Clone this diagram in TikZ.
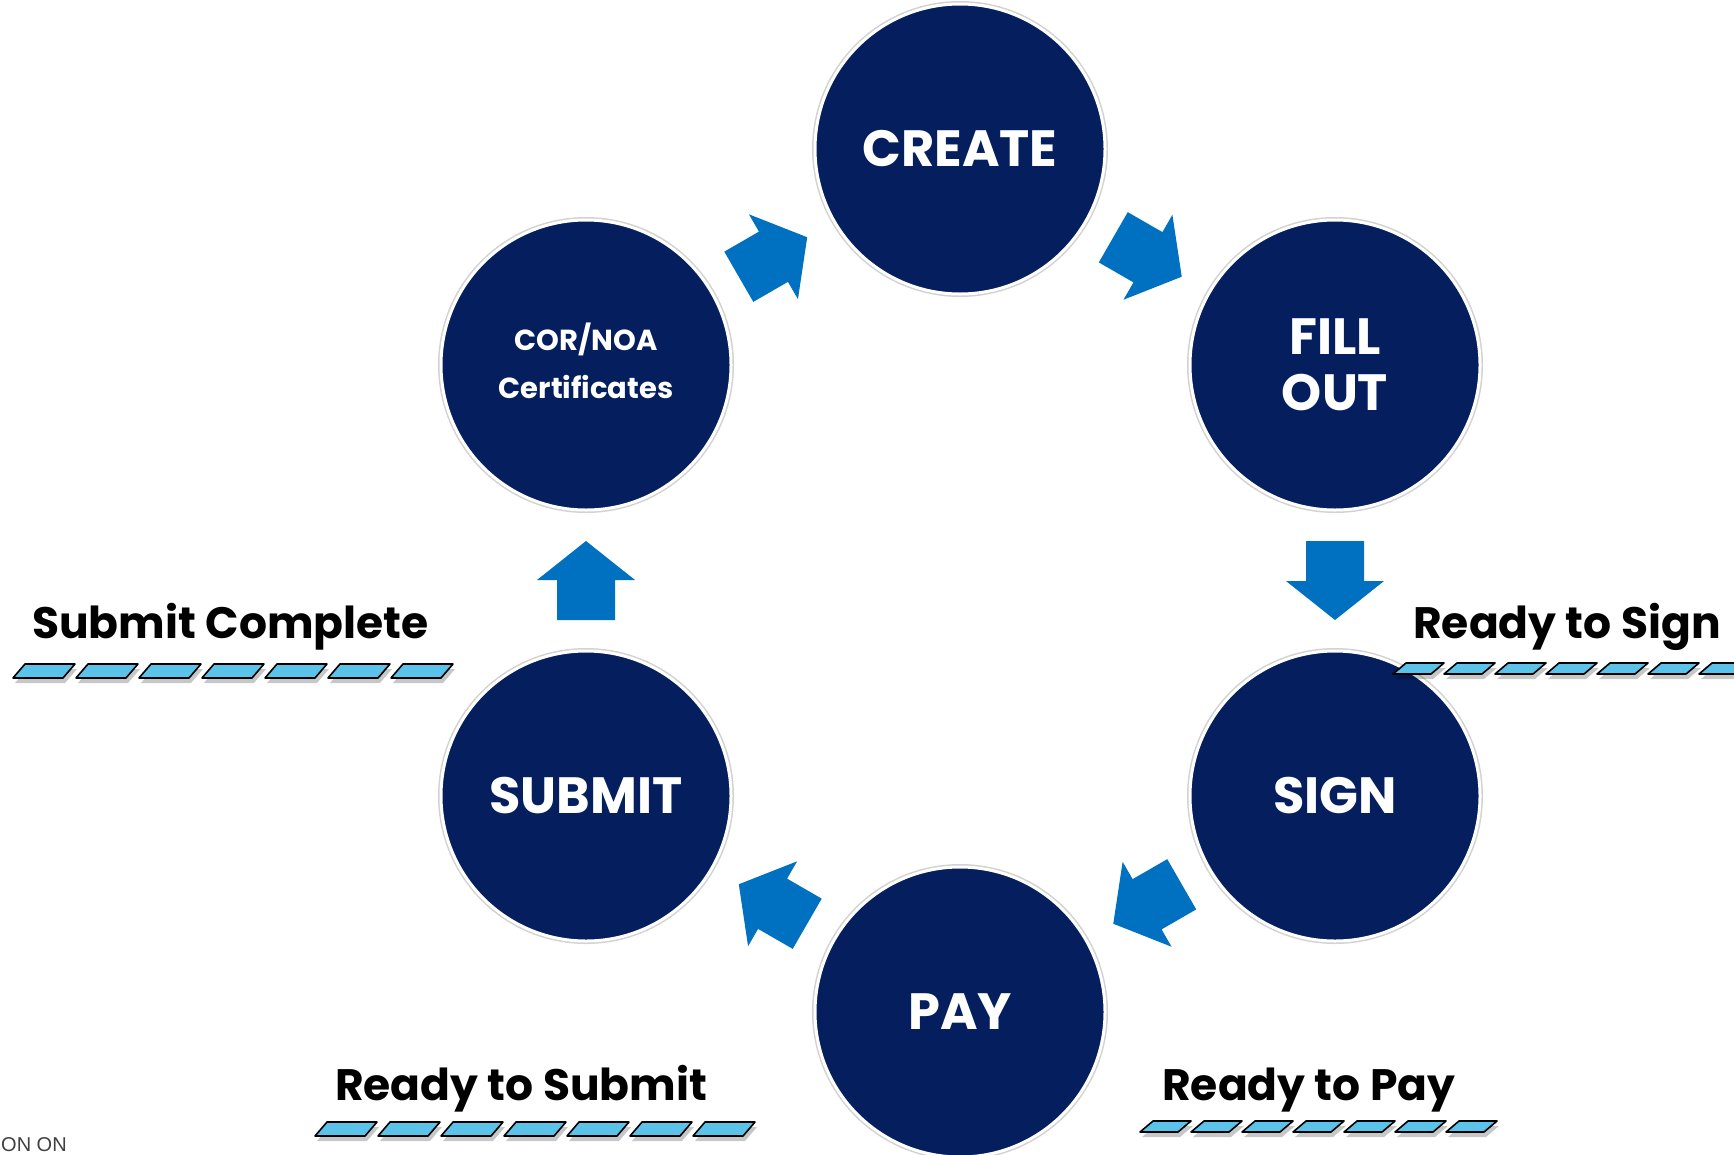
\documentclass[tikz,border=0pt]{standalone}
\usepackage{fontspec}
\setmainfont{Poppins}
\newfontfamily\smallfont{Liberation Sans}
\usetikzlibrary{calc}
\definecolor{navy}{HTML}{041E5E}
\definecolor{arrowblue}{HTML}{0070C0}
\definecolor{barblue}{HTML}{5BC2EA}
\tikzset{
  stage/.style={circle, fill=navy, minimum size=290pt, inner sep=0pt,
    text=white, align=center, draw=white, line width=3pt,
    preaction={draw=gray!35, line width=6pt},
    font=\bfseries\fontsize{51}{60}\selectfont},
  smalltext/.style={text=white, align=center, inner sep=0pt,
    font=\bfseries\fontsize{29}{36}\selectfont},
  steplabel/.style={anchor=base west, inner sep=0pt, text=black,
    font=\bfseries\fontsize{44}{50}\selectfont},
  blockarrow/.pic={\fill[arrowblue] (-39.5,-29)--(0.5,-29)--(0.5,-49)--(39.5,0)
      --(0.5,49)--(0.5,29)--(-39.5,29)--cycle;},
  barpiece/.style={fill=barblue, draw=black, line width=1.6pt, line join=round},
  barshadow/.style={fill=black, opacity=0.22}
}
% #1 x start, #2 bottom y, #3 count, #4 pitch, #5 width, #6 skew, #7 height
\newcommand{\dashbar}[7]{%
  \foreach \i in {1,...,#3}{%
    \pgfmathsetmacro{\bx}{#1+(\i-1)*#4}%
    \fill[barshadow] (\bx+2,#2+5) -- (\bx+2+#5,#2+5) -- (\bx+2+#5+#6,#2+5-#7) -- (\bx+2+#6,#2+5-#7) -- cycle;
    \draw[barpiece] (\bx,#2) -- (\bx+#5,#2) -- (\bx+#5+#6,#2-#7) -- (\bx+#6,#2-#7) -- cycle;
  }}
\begin{document}
\begin{tikzpicture}[x=1pt,y=-1pt]
\useasboundingbox (0,0) rectangle (1734,1154);
\clip (0,0) rectangle (1734,1154);
\fill[white] (0,0) rectangle (1734,1154);

% stages
\node[stage] (create) at (960,149) {CREATE};
\node[stage] (fill) at (1335,365) {FILL\\[-4pt]OUT};
\node[stage] (sign) at (1335,796) {SIGN};
\node[stage] (pay) at (960,1012) {PAY};
\node[stage] (submit) at (586,796) {SUBMIT};
\node[stage, label={[smalltext, yshift=4.5pt]center:COR/NOA\\[12pt]Certificates}] (cor) at (586,365) {};

% arrows
\path (create.center) -- pic[pos=0.5, sloped, allow upside down]{blockarrow} (fill.center);
\path (fill.center) -- pic[pos=0.5, sloped, allow upside down]{blockarrow} (sign.center);
\path (sign.center) -- pic[pos=0.5, sloped, allow upside down]{blockarrow} (pay.center);
\path (pay.center) -- pic[pos=0.5, sloped, allow upside down]{blockarrow} (submit.center);
\path (submit.center) -- pic[pos=0.5, sloped, allow upside down]{blockarrow} (cor.center);
\path (cor.center) -- pic[pos=0.5, sloped, allow upside down]{blockarrow} (create.center);

% labels
\node[steplabel] (lsubmitc) at (32,638) {Submit Complete};
\node[steplabel] (lsign) at (1413,638) {Ready to Sign};
\node[steplabel] (lsubmit) at (335,1100) {Ready to Submit};
\node[steplabel] (lpay) at (1162,1100) {Ready to Pay};

% dashed bars
\dashbar{13}{678}{7}{63}{50}{12}{14}
\dashbar{1393}{674}{8}{51}{38}{13}{11}
\dashbar{315}{1136}{7}{63}{50}{12}{14}
\dashbar{1140}{1132}{7}{51}{38}{13}{11}

\node[anchor=base west, inner sep=0pt, text=black!75, font=\smallfont\fontsize{20}{22}\selectfont] (onon) at (1,1151) {ON ON};
\end{tikzpicture}
\end{document}
